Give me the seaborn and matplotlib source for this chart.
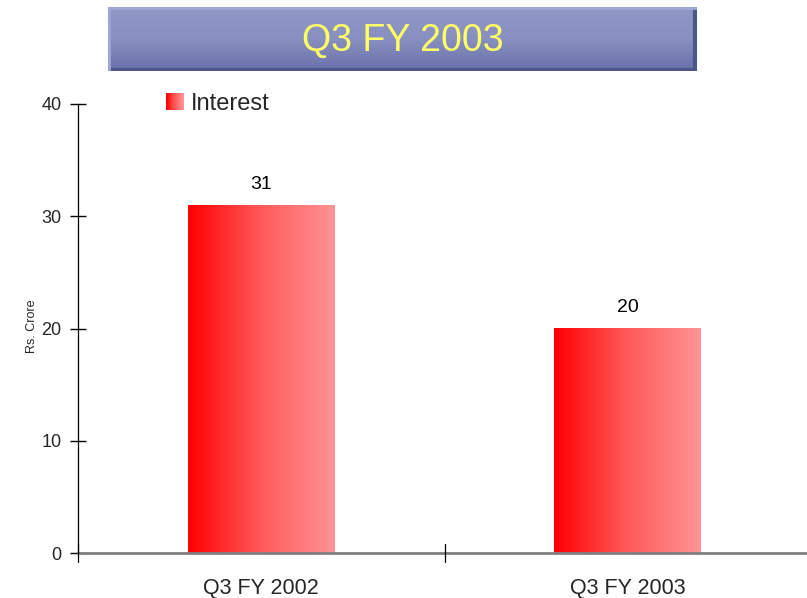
import numpy as np
import pandas as pd
import seaborn as sns
import matplotlib.pyplot as plt
from matplotlib.patches import Rectangle
from matplotlib.colors import LinearSegmentedColormap
from matplotlib.legend_handler import HandlerBase

# chart data
quarters = ['Q3 FY 2002', 'Q3 FY 2003']
interest = [31, 20]
series_name = 'Interest'
chart_title = 'Q3 FY 2003'
y_label = 'Rs. Crore'

df = pd.DataFrame({'quarter': quarters, 'value': interest})

sns.set_theme(style='white')
plt.rcParams['font.family'] = ['Liberation Sans', 'DejaVu Sans']

red_grad = LinearSegmentedColormap.from_list('redgrad', ['#ff0000', '#ff5a5a', '#ff9494'])

fig = plt.figure(figsize=(8.07, 5.98), dpi=100)
ax = fig.add_axes([78 / 807, 1 - 553 / 598, (811 - 78) / 807, (553 - 104) / 598])

sns.barplot(data=df, x='quarter', y='value', color='#ff4040', width=0.4, ax=ax)

# swap flat bars for a left-to-right gradient
grad = np.linspace(0, 1, 256).reshape(1, -1)
for bar in ax.patches:
    x0, y0 = bar.get_x(), bar.get_y()
    w, h = bar.get_width(), bar.get_height()
    ax.imshow(grad, cmap=red_grad, aspect='auto', extent=[x0, x0 + w, y0, y0 + h], zorder=2)
    bar.set_visible(False)
    ax.text(x0 + w / 2, y0 + h + 1.1, f'{h:.0f}', ha='center', va='bottom', fontsize=14,
            color='black')

ax.set_xlim(-0.5, 1.5)
ax.set_ylim(0, 40)
ax.set_yticks([0, 10, 20, 30, 40])
ax.set_xticks([0, 1])
ax.set_xticklabels(quarters, fontsize=15.5)
ax.tick_params(axis='y', labelsize=13, direction='inout', length=12, width=1,
               color='black', left=True, pad=6)
ax.tick_params(axis='x', bottom=False, pad=12)
# separator ticks between the categories
for xp in [-0.5, 0.5]:
    ax.plot([xp, xp], [-0.8, 0.8], color='black', lw=0.9, clip_on=False, zorder=5)

ax.set_xlabel('')
ax.set_ylabel(y_label, fontsize=9)
ax.yaxis.set_label_coords(-0.054, 0.505)

for s in ['top', 'right']:
    ax.spines[s].set_visible(False)
ax.spines['left'].set_color('black')
ax.spines['left'].set_linewidth(0.9)
ax.spines['bottom'].set_color('#808080')
ax.spines['bottom'].set_linewidth(2)


class GradientHandler(HandlerBase):
    def create_artists(self, legend, orig_handle, xdescent, ydescent, width, height,
                       fontsize, trans):
        n = 20
        arts = []
        for i in range(n):
            r = Rectangle((xdescent + width * i / n, -ydescent), width / n + 0.3, height,
                          facecolor=red_grad(i / (n - 1)), edgecolor='none', transform=trans)
            arts.append(r)
        return arts


proxy = Rectangle((0, 0), 1, 1)
ax.legend([proxy], [series_name], handler_map={Rectangle: GradientHandler()},
          loc='upper left', bbox_to_anchor=(166 / 807, 1 - 93 / 598),
          bbox_transform=fig.transFigure, frameon=False, borderpad=0, borderaxespad=0,
          fontsize=17, handlelength=0.75, handleheight=0.75, handletextpad=0.3)

# title banner
tax = fig.add_axes([108 / 807, 1 - 71 / 598, (697 - 108) / 807, 64 / 598])
tgrad = np.linspace(0, 1, 256).reshape(-1, 1)
banner = LinearSegmentedColormap.from_list('banner', ['#9098c6', '#8890c0', '#6870aa'])
tax.imshow(tgrad, cmap=banner, aspect='auto', extent=[0, 1, 0, 1])
tax.plot([0, 1], [0.015, 0.015], color='#4c5688', lw=3)
tax.plot([0.997, 0.997], [0, 1], color='#4c5688', lw=3)
tax.plot([0.002, 0.002], [0, 1], color='#a0a8d4', lw=2)
tax.plot([0, 1], [0.99, 0.99], color='#a0a8d4', lw=2)
tax.set_xlim(0, 1)
tax.set_ylim(0, 1)
tax.axis('off')
tax.text(0.5, 0.47, chart_title, ha='center', va='center', fontsize=27,
         color='#ffff66')

fig.savefig('out.png', dpi=100)
